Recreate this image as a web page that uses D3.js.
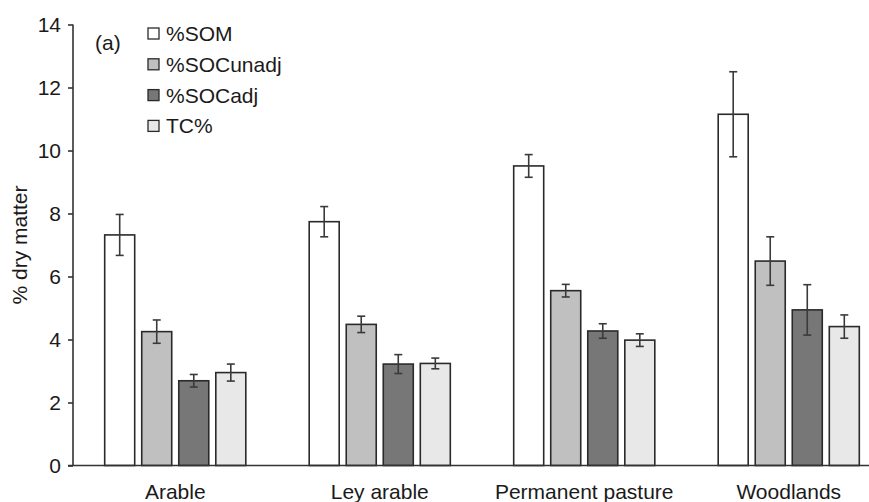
<!DOCTYPE html>
<html>
<head>
<meta charset="utf-8">
<script src="https://cdn.jsdelivr.net/npm/d3@7"></script>
<style>
  body { margin: 0; background: #fff; }
  text { font-family: "Liberation Sans", Arial, sans-serif; fill: #1a1a1a; }
</style>
</head>
<body>
<div class="canvas"></div>
<script>
const width = 869;
const height = 502;

const categories = ["Arable", "Ley arable", "Permanent pasture", "Woodlands"];
const seriesNames = ["%SOM", "%SOCunadj", "%SOCadj", "TC%"];
const seriesColors = ["#ffffff", "#c0c0c0", "#777777", "#e8e8e8"];

// means per series, one value per land use
const som = [7.32, 7.74, 9.51, 11.15];
const socUnadj = [4.25, 4.48, 5.55, 6.49];
const socAdj = [2.69, 3.22, 4.27, 4.94];
const tc = [2.95, 3.24, 3.98, 4.41];

// error bar half-widths
const somErr = [0.65, 0.48, 0.36, 1.35];
const socUnadjErr = [0.37, 0.26, 0.2, 0.77];
const socAdjErr = [0.2, 0.3, 0.23, 0.8];
const tcErr = [0.27, 0.17, 0.2, 0.37];

const yTicks = [0, 2, 4, 6, 8, 10, 12, 14];

const values = [som, socUnadj, socAdj, tc];
const errors = [somErr, socUnadjErr, socAdjErr, tcErr];

const fontSize = 21;

const svg = d3
  .select(".canvas")
  .append("svg")
  .attr("width", width)
  .attr("height", height);

const x0 = d3
  .scaleBand()
  .domain(categories)
  .range([73, 891])
  .paddingInner(0.31)
  .paddingOuter(0.155);

const x1 = d3
  .scaleBand()
  .domain(seriesNames)
  .range([0, x0.bandwidth()])
  .paddingInner(0.19);

const y = d3.scaleLinear().domain([0, 14]).range([465.5, 24.5]);

// flatten into rows for drawing
const rows = [];
categories.forEach((c, i) => {
  seriesNames.forEach((s, j) => {
    rows.push({ cat: c, series: s, j: j, v: values[j][i], e: errors[j][i] });
  });
});

const bars = svg.append("g");

bars
  .selectAll("rect")
  .data(rows)
  .enter()
  .append("rect")
  .attr("x", (d) => x0(d.cat) + x1(d.series))
  .attr("y", (d) => y(d.v))
  .attr("width", x1.bandwidth())
  .attr("height", (d) => y(0) - y(d.v))
  .attr("fill", (d) => seriesColors[d.j])
  .attr("stroke", "#2a2a2a")
  .attr("stroke-width", 1.6);

// error bars
const errG = svg.append("g").attr("stroke", "#3a3a3a").attr("stroke-width", 1.6);
rows.forEach((d) => {
  const cx = x0(d.cat) + x1(d.series) + x1.bandwidth() / 2;
  errG
    .append("line")
    .attr("x1", cx)
    .attr("x2", cx)
    .attr("y1", y(d.v + d.e))
    .attr("y2", y(d.v - d.e));
  [d.v + d.e, d.v - d.e].forEach((t) => {
    errG
      .append("line")
      .attr("x1", cx - 4)
      .attr("x2", cx + 4)
      .attr("y1", y(t))
      .attr("y2", y(t));
  });
});

// y axis
const yAxis = svg
  .append("g")
  .attr("transform", "translate(73,0)")
  .call(d3.axisLeft(y).tickValues(yTicks).tickSize(5).tickPadding(7));
yAxis.selectAll("text").attr("font-size", fontSize).attr("fill", "#1a1a1a");
yAxis.selectAll("line, path").attr("stroke", "#333").attr("stroke-width", 1.6);
yAxis.select("path").attr("d", "M0," + y(14) + "V" + y(0));

// x axis line (runs past the right edge)
svg
  .append("line")
  .attr("x1", 68)
  .attr("x2", width)
  .attr("y1", y(0))
  .attr("y2", y(0))
  .attr("stroke", "#333")
  .attr("stroke-width", 1.6);

svg
  .append("g")
  .selectAll("text")
  .data(categories)
  .enter()
  .append("text")
  .attr("x", (d) => x0(d) + x0.bandwidth() / 2)
  .attr("y", 499)
  .attr("text-anchor", "middle")
  .attr("font-size", fontSize)
  .text((d) => d);

// y label
svg
  .append("text")
  .attr("transform", "translate(27," + (y(14) + y(0)) / 2 + ") rotate(-90)")
  .attr("text-anchor", "middle")
  .attr("font-size", fontSize)
  .text("% dry matter");

svg
  .append("text")
  .attr("x", 95)
  .attr("y", 50)
  .attr("font-size", fontSize)
  .text("(a)");

// legend
const legend = svg
  .append("g")
  .selectAll("g")
  .data(seriesNames)
  .enter()
  .append("g")
  .attr("transform", (d, i) => "translate(148," + (33.5 + i * 30.8) + ")");

legend
  .append("rect")
  .attr("x", 0)
  .attr("y", -5.5)
  .attr("width", 11)
  .attr("height", 11)
  .attr("fill", (d, i) => seriesColors[i])
  .attr("stroke", "#2a2a2a")
  .attr("stroke-width", 1.3);

legend
  .append("text")
  .attr("x", 18)
  .attr("y", 7.5)
  .attr("font-size", fontSize)
  .text((d) => d);
</script>
</body>
</html>
